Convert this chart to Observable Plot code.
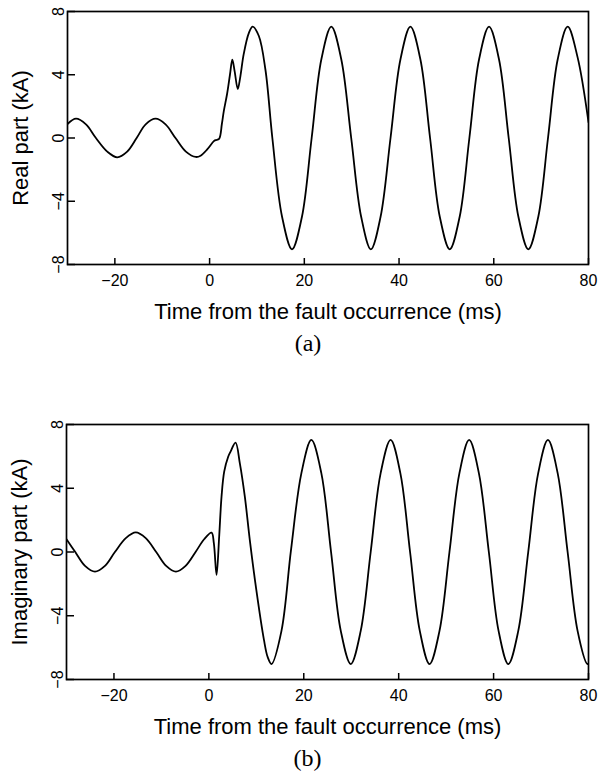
<!DOCTYPE html>
<html>
<head>
<meta charset="utf-8">
<script src="https://cdn.jsdelivr.net/npm/d3@7"></script>
<script src="https://cdn.jsdelivr.net/npm/@observablehq/plot@0.6"></script>
<style>
  body { margin: 0; background: #fff; }
  svg { display: block; }
</style>
</head>
<body>
<div id="chart"></div>
<script>
// ---- data ----
const xTicks = [-20, 0, 20, 40, 60, 80];
const yTicks = [-8, -4, 0, 4, 8];
const xTitle = "Time from the fault occurrence (ms)";

// (a) real part
const timeA = [-30, -28.2, -26.1, -24.0, -21.6, -19.5, -17.4, -15.4, -13.5, -11.4,
  -9.3, -7.2, -5.0, -2.9, -1.9, -0.5, 0.9, 1.3, 2.0, 2.6,
  3.0, 3.7, 4.3, 4.8, 5.3, 5.95, 6.5, 7.2, 8.3, 9.1,
  10.4, 11.8, 13.25, 15.3, 17.4, 19.5, 21.55, 23.6, 25.7, 27.8,
  29.9, 32.0, 34.05, 36.1, 38.2, 40.3, 42.4, 44.5, 46.55, 48.6,
  50.7, 52.8, 54.85, 56.9, 59.0, 61.1, 63.15, 65.2, 67.3, 69.4,
  71.45, 73.5, 75.6, 77.7, 80];
const realPart = [0.88, 1.22, 0.86, 0, -0.86, -1.22, -0.86, 0, 0.86, 1.22,
  0.86, 0, -0.86, -1.2, -1.12, -0.72, -0.2, -0.13, -0.06, 0.9,
  1.7, 2.8, 4.0, 4.95, 4.2, 3.1, 3.9, 5.3, 6.65, 7.04,
  6.45, 4.3, 0, -4.98, -7.04, -4.98, 0, 4.98, 7.04, 4.98,
  0, -4.98, -7.04, -4.98, 0, 4.98, 7.04, 4.98, 0, -4.98,
  -7.04, -4.98, 0, 4.98, 7.04, 4.98, 0, -4.98, -7.04, -4.98,
  0, 4.98, 7.04, 5.1, 1.0];

// (b) imaginary part
const timeB = [-30, -28.15, -26.1, -24.0, -21.9, -19.8, -17.5, -15.4, -13.3, -11.1,
  -9.0, -6.95, -4.9, -2.8, -1.0, 0.57, 1.05, 1.62, 2.17, 2.67,
  3.23, 4.07, 4.57, 5.62, 6.53, 7.58, 8.63, 10.0, 11.6, 12.4,
  13.2, 15.3, 17.3, 19.5, 21.6, 23.7, 25.75, 27.8, 29.9, 32.0,
  34.1, 36.2, 38.3, 40.35, 42.4, 44.45, 46.5, 48.6, 50.7, 52.8,
  54.85, 56.9, 59.0, 61.05, 63.1, 65.2, 67.3, 69.4, 71.45, 73.5,
  75.6, 77.7, 79.75, 80];
const imagPart = [0.8, 0, -0.87, -1.23, -0.87, 0, 0.87, 1.23, 0.87, 0,
  -0.87, -1.23, -0.87, 0, 0.8, 1.21, 0.55, -1.44, 0.96, 3.47,
  5.04, 5.98, 6.3, 6.86, 5.56, 3.47, 0.75, -2.38, -5.5, -6.6,
  -7.03, -4.95, 0.1, 4.95, 7.03, 4.95, 0, -4.95, -7.03, -4.95,
  0, 4.95, 7.03, 4.95, 0, -4.95, -7.03, -4.95, 0, 4.95,
  7.03, 4.95, 0, -4.95, -7.03, -4.95, 0, 4.95, 7.03, 4.95,
  0, -4.95, -7.03, -7.0];

const fmt = d => d < 0 ? "\u2212" + Math.abs(d) : String(d);

function panel({times, values, yLabel, caption, height, marginTop, marginBottom, marginLeft, marginRight}) {
  const data = times.map((t, i) => ({t, v: values[i]}));
  const fw = 598 - marginLeft - marginRight;
  const fh = height - marginTop - marginBottom;
  return Plot.plot({
    width: 598,
    height,
    marginTop, marginBottom, marginLeft, marginRight,
    style: {fontFamily: "'Liberation Sans', Arial, Helvetica, sans-serif", fontSize: "16px", background: "white", color: "black"},
    x: {domain: [-30, 80]},
    y: {domain: [-8, 8], axis: null},
    marks: [
      Plot.line(data, {x: "t", y: "v", curve: "catmull-rom", stroke: "black", strokeWidth: 1.8, clip: true}),
      Plot.frame({stroke: "black", strokeWidth: 1.7}),
      Plot.tickX(xTicks, {x: d => d, insetTop: fh - 6, stroke: "black", strokeWidth: 1.5}),
      Plot.tickY(yTicks, {y: d => d, insetRight: fw - 8, stroke: "black", strokeWidth: 1.5}),
      Plot.axisX({ticks: xTicks, tickSize: 0, tickPadding: 10, fontSize: 16, label: null, tickFormat: fmt}),
      Plot.text(yTicks, {y: d => d, frameAnchor: "left", text: fmt, rotate: -90, textAnchor: "middle", lineAnchor: "bottom", dx: -4, fontSize: 16}),
      Plot.text([xTitle], {frameAnchor: "bottom", textAnchor: "middle", dy: 54, fontSize: 22}),
      Plot.text([yLabel], {frameAnchor: "left", rotate: -90, textAnchor: "middle", dx: -47, fontSize: 22}),
      Plot.text([caption], {frameAnchor: "bottom", textAnchor: "middle", dx: -20, dy: 86, fontSize: 24, fontFamily: "'Liberation Serif', 'Times New Roman', serif"})
    ]
  });
}

const chart = document.getElementById("chart");
chart.append(panel({times: timeA, values: realPart, yLabel: "Real part (kA)", caption: "(a)",
  height: 390, marginTop: 11, marginBottom: 126, marginLeft: 67, marginRight: 10}));
chart.append(panel({times: timeB, values: imagPart, yLabel: "Imaginary part (kA)", caption: "(b)",
  height: 390, marginTop: 34, marginBottom: 101, marginLeft: 66, marginRight: 10}));
</script>
</body>
</html>
